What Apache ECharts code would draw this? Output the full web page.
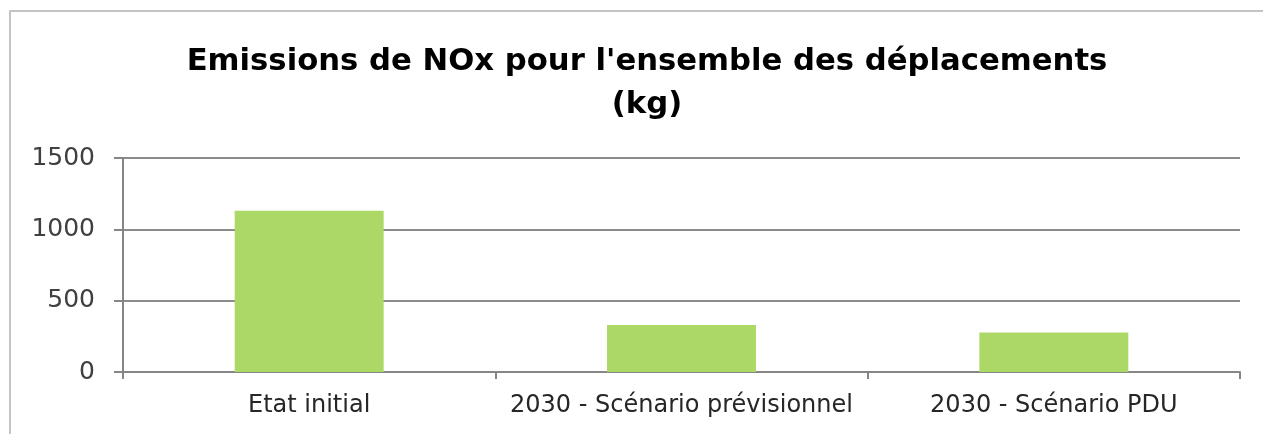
<!DOCTYPE html>
<html>
<head>
<meta charset="utf-8">
<script src="https://cdn.jsdelivr.net/npm/echarts@6/dist/echarts.min.js"></script>
<style>
  html, body { margin: 0; padding: 0; background: #fff; }
  #main { width: 1263px; height: 434px; }
</style>
</head>
<body>
<div id="main"></div>
<script>
  const categories = ['Etat initial', '2030 - Scénario prévisionnel', '2030 - Scénario PDU'];
  const emissions = [1130, 330, 276];
  const yTicks = [0, 500, 1000, 1500];

  const FONT = 'DejaVu Sans';

  let myChart = echarts.init(document.getElementById('main'));

  let option = {
    animation: false,
    title: {
      text: "Emissions de NOx pour l'ensemble des déplacements\n(kg)",
      // with textAlign centre, left is the centre point of the title
      left: 642,
      top: 36,
      textAlign: 'center',
      textStyle: {
        fontFamily: FONT,
        fontWeight: 'bold',
        fontSize: 30.7,
        lineHeight: 43,
        color: '#000'
      }
    },
    graphic: [{
      type: 'rect',
      shape: {x: 10, y: 11, width: 1300, height: 500},
      style: {fill: 'none', stroke: '#c4c4c4', lineWidth: 2},
      silent: true
    }],
    grid: {
      left: 123,
      right: 23,
      top: 158,
      bottom: 62
    },
    xAxis: {
      type: 'category',
      data: categories,
      axisLine: {lineStyle: {color: '#868686', width: 2}},
      axisTick: {show: true, interval: 0, length: 7, lineStyle: {color: '#868686', width: 2}},
      axisLabel: {
        interval: 0,
        hideOverlap: false,
        fontFamily: FONT,
        fontSize: 24,
        color: '#262626',
        margin: 22
      }
    },
    yAxis: {
      type: 'value',
      min: yTicks[0],
      max: yTicks[yTicks.length - 1],
      interval: 500,
      axisLine: {show: true, lineStyle: {color: '#868686', width: 2}},
      axisTick: {show: true, length: 9, lineStyle: {color: '#868686', width: 2}},
      splitLine: {lineStyle: {color: '#8c8c8c', width: 2}},
      axisLabel: {
        fontFamily: FONT,
        fontSize: 25,
        color: '#404040',
        margin: 28,
        formatter: function(v) { return String(v); }
      }
    },
    series: [{
      type: 'bar',
      data: emissions,
      barWidth: '40%',
      itemStyle: {color: '#acd865'}
    }]
  };

  myChart.setOption(option);
</script>
</body>
</html>
